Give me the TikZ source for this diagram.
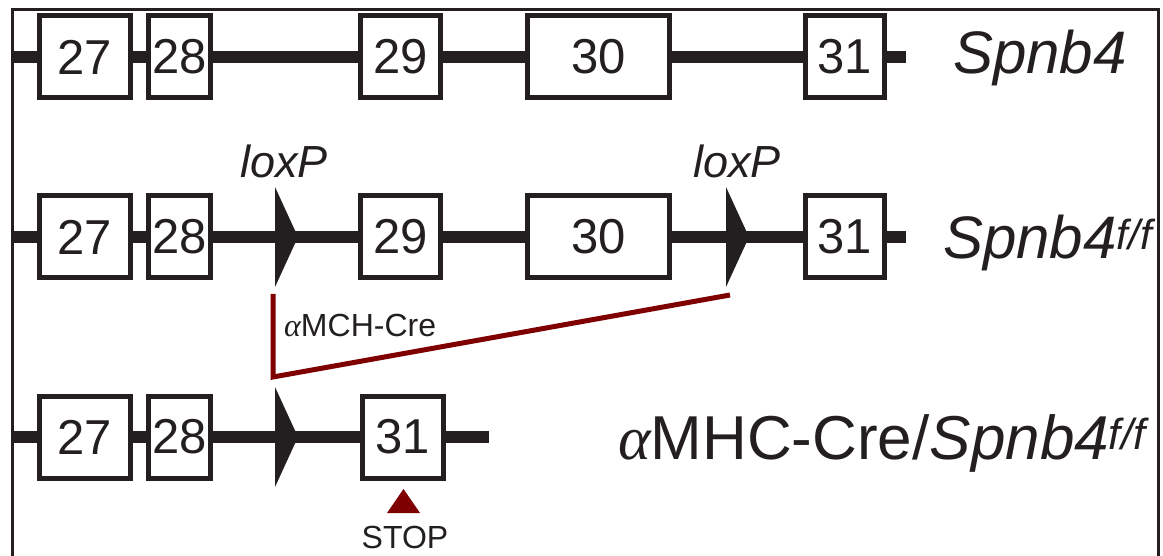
\documentclass[tikz,border=0pt]{standalone}
\usepackage{fontspec}
\setmainfont{Liberation Sans}
\newfontfamily\greekfont{Liberation Serif}
\usetikzlibrary{positioning}
\definecolor{ink}{HTML}{231F20}
\definecolor{crered}{HTML}{7F0000}
\newcommand{\alphachar}{{\greekfont\itshape α}}

\begin{document}
\begin{tikzpicture}[x=1pt,y=-1pt,
  exon/.style={draw=ink,line width=5pt,fill=white,inner sep=0pt,minimum height=82pt,
    font=\fontsize{49}{49}\selectfont,text=ink},
  gene/.style={draw=ink,line width=12pt},
  loxp/.style={fill=ink},
  genename/.style={inner sep=0pt,text=ink,font=\fontsize{60}{62}\selectfont},
  cre/.style={draw=crered,line width=5pt}]
\useasboundingbox (0,0) rectangle (1163,556);
\draw[ink,line width=3pt] (12,560) -- (12,10) -- (1158,10) -- (1158,560);

% wild type
\coordinate (a0) at (12,57);
\coordinate (a1) at (906,57);
\draw[gene] (a0) -- (a1);
\foreach \n/\x/\w in {27/85/91,28/179.5/62,29/400.5/80,30/598.5/142,31/845/79}
  \node[exon,minimum width=\w pt] (a\n) at (\x,57) {\n};
\node[genename,anchor=base west] (wt) at (953,74) {\itshape Spnb4};

% floxed allele
\coordinate (b0) at (12,237);
\coordinate (b1) at (906,237);
\draw[gene] (b0) -- (b1);
\foreach \n/\x/\w in {27/85/91,28/179.5/62,29/400.5/80,30/598.5/142,31/845/79}
  \node[exon,minimum width=\w pt] (b\n) at (\x,237) {\n};
\coordinate (lox1) at (275,237);
\coordinate (lox2) at (726,237);
\foreach \c in {lox1,lox2}
  \fill[loxp] (\c) ++(0,-50) -- ++(23,50) -- ++(-23,50) -- cycle;
\node[genename,anchor=base,font=\fontsize{45}{45}\selectfont\itshape] (l1) at (284,178) {loxP};
\node[genename,anchor=base,font=\fontsize{45}{45}\selectfont\itshape] (l2) at (737,178) {loxP};
\node[genename,anchor=base west] (fl) at (943,259) {\itshape Spnb4\textsuperscript{f/f}};

% recombination
\coordinate (r0) at (273,294);
\coordinate (r1) at (273,377);
\coordinate (r2) at (730,295);
\draw[cre] (r0) -- (r1) -- (r2);
\node[genename,anchor=base west,font=\fontsize{32}{32}\selectfont] (crelab) at (284,337) {\alphachar MCH-Cre};

% deleted allele
\coordinate (c0) at (12,437);
\coordinate (c1) at (489,437);
\draw[gene] (c0) -- (c1);
\foreach \n/\x/\w in {27/85/91,28/179.5/62}
  \node[exon,minimum width=\w pt] (c\n) at (\x,437) {\n};
\node[exon,minimum width=81pt] (c31) at (403,437) {31};
\coordinate (lox3) at (275,437);
\fill[loxp] (lox3) ++(0,-50) -- ++(23,50) -- ++(-23,50) -- cycle;
\fill[crered] (387,513) -- (420,513) -- (403.5,489) -- cycle;
\node[genename,anchor=base,font=\fontsize{32}{32}\selectfont] (stop) at (405,548) {STOP};
\node[genename,anchor=base west,font=\fontsize{62}{64}\selectfont] (ko) at (618,459)
  {\alphachar MHC-Cre/\textit{Spnb4}\textsuperscript{\itshape f/f}};
\end{tikzpicture}
\end{document}
